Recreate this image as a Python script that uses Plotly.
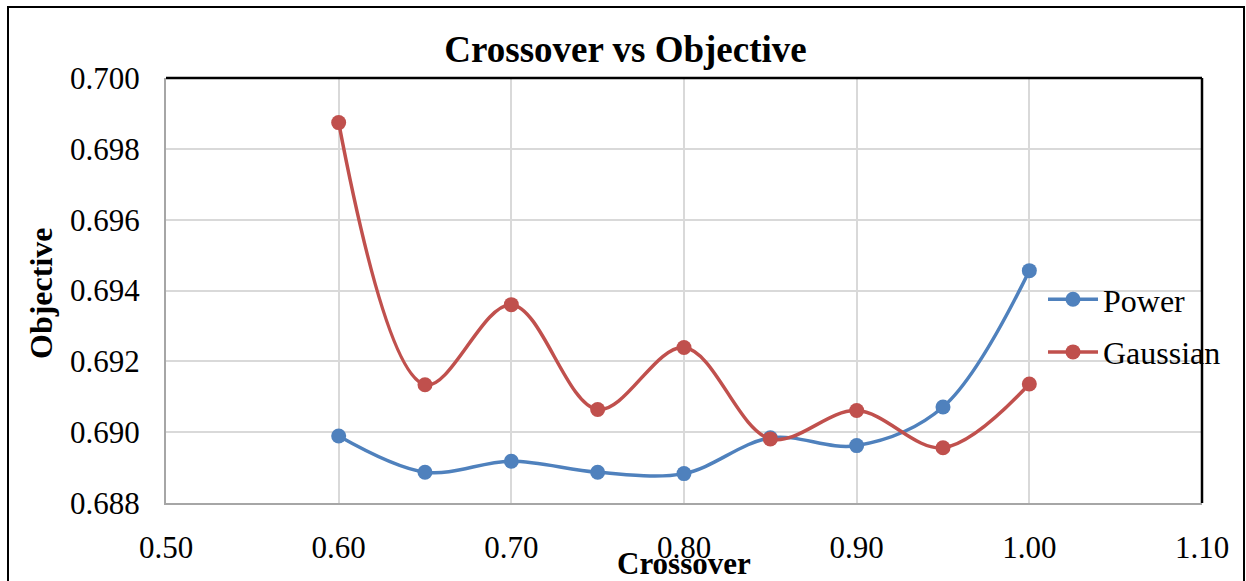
import plotly.graph_objects as go

crossover = [0.60, 0.65, 0.70, 0.75, 0.80, 0.85, 0.90, 0.95, 1.00]
power = [0.68989, 0.68887, 0.68918, 0.68887, 0.68883, 0.68984, 0.68962, 0.69071, 0.69456]
gaussian = [0.69874, 0.69134, 0.69360, 0.69064, 0.69239, 0.68981, 0.69061, 0.68956, 0.69136]

W, H = 1246, 581
L, R, T, B = 166, 1202, 78, 503
FONT = "Liberation Serif, Times New Roman, serif"


def px_x(p):
    return (p - L) / (R - L)


def px_y(p):
    return (B - p) / (B - T)


fig = go.Figure()
fig.add_trace(go.Scatter(
    x=crossover, y=power, name="Power", mode="lines+markers", legendgroup="p",
    line=dict(color="#4F81BD", width=3.5, shape="spline", smoothing=1),
    marker=dict(size=15, color="#4F81BD"),
))
fig.add_trace(go.Scatter(
    x=crossover, y=gaussian, name="Gaussian", mode="lines+markers", legendgroup="g",
    line=dict(color="#C0504D", width=3.5, shape="spline", smoothing=1),
    marker=dict(size=15, color="#C0504D"),
))

fig.update_layout(
    width=W, height=H,
    margin=dict(l=L, r=W - R, t=T, b=H - B, autoexpand=False),
    paper_bgcolor="white", plot_bgcolor="white",
    font=dict(family=FONT, size=30, color="black"),
    title=dict(text="<b>Crossover vs Objective</b>", x=0.502, xref="container",
               xanchor="center", y=1 - 49 / H, yref="container", yanchor="middle",
               font=dict(family=FONT, size=37, color="black")),
    showlegend=True,
    legend=dict(x=px_x(1043), y=px_y(272), xanchor="left", yanchor="top",
                bgcolor="rgba(0,0,0,0)", font=dict(family=FONT, size=32, color="black"),
                tracegroupgap=8, itemwidth=50),
    xaxis=dict(range=[0.5, 1.1], dtick=0.1, tick0=0.5, tickformat=".2f",
               showgrid=True, gridcolor="#D9D9D9", gridwidth=2,
               showline=True, linecolor="#A6A6A6", linewidth=2, mirror=False,
               zeroline=False, ticks="", ticklabelstandoff=16,
               tickfont=dict(family=FONT, size=31, color="black")),
    yaxis=dict(range=[0.688, 0.700], dtick=0.002, tick0=0.688, tickformat=".3f",
               showgrid=True, gridcolor="#D9D9D9", gridwidth=2,
               showline=True, linecolor="#A6A6A6", linewidth=2, mirror=False,
               zeroline=False, ticks="", ticklabelstandoff=18,
               tickfont=dict(family=FONT, size=31, color="black")),
    annotations=[
        dict(text="<b>Crossover</b>", xref="paper", yref="paper",
             x=px_x(684), y=px_y(563), xanchor="center", yanchor="middle",
             showarrow=False, font=dict(family=FONT, size=31, color="black")),
        dict(text="<b>Objective</b>", xref="paper", yref="paper",
             x=px_x(41), y=px_y(293), xanchor="center", yanchor="middle",
             textangle=-90, showarrow=False,
             font=dict(family=FONT, size=32, color="black")),
    ],
    shapes=[
        dict(type="rect", xref="paper", yref="paper",
             x0=px_x(8), x1=px_x(1244), y0=px_y(600), y1=px_y(7),
             line=dict(color="black", width=2), fillcolor="rgba(0,0,0,0)", layer="above"),
        dict(type="line", xref="paper", yref="paper", x0=0, x1=1, y0=1, y1=1,
             line=dict(color="black", width=2.5)),
        dict(type="line", xref="paper", yref="paper", x0=1, x1=1, y0=0, y1=1,
             line=dict(color="black", width=2.5)),
    ],
)

fig.write_html("out.html")
